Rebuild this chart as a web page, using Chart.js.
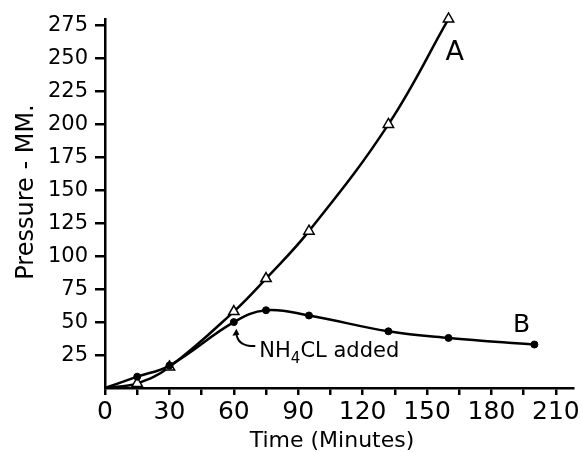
<!DOCTYPE html>
<html>
<head>
<meta charset="utf-8">
<script src="https://cdn.jsdelivr.net/npm/chart.js@4"></script>
<style>
  html, body { margin: 0; padding: 0; background: #fff; }
  #wrap { width: 582px; height: 452px; }
</style>
</head>
<body>
<div id="wrap"><canvas id="myChart"></canvas></div>
<script>
// values
const timesA = [0, 15, 30, 60, 75, 95, 132, 160];
const pressureA = [0, 3.5, 16, 58, 83, 119, 200, 280];
const timesB = [0, 15, 30, 60, 75, 95, 132, 160, 200];
const pressureB = [0, 8.6, 17, 50, 59, 55, 43, 38, 33];

const xTicksMax = 210;
const yTicksMin = 25;
const yTicksMax = 275;

const fontName = "'DejaVu Sans', sans-serif";

// text labels put on the plot, in data units
const curveLabels = [
    { text: 'A', x: 158.6, y: 249, size: 27 },
    { text: 'B', x: 190, y: 42.6, size: 25 },
];
const noteAt = { x: 71.9, y: 23.7 };       // "NH4CL added"
const arrowFrom = { x: 70, y: 31.8 };
const arrowBend = { x: 61.5, y: 31.5 };
const arrowTo = { x: 61.2, y: 45 };

function toPoints(xs, ys) {
    return xs.map((x, i) => ({ x: x, y: ys[i] }));
}

const extraText = {
    id: 'extraText',
    afterDatasetsDraw(chart) {
        const ctx = chart.ctx;
        const sx = chart.scales.x, sy = chart.scales.y;
        ctx.save();
        ctx.fillStyle = '#000';
        ctx.strokeStyle = '#000';

        // curve names
        curveLabels.forEach(l => {
            ctx.font = l.size + 'px ' + fontName;
            ctx.textAlign = 'left';
            ctx.textBaseline = 'alphabetic';
            ctx.fillText(l.text, sx.getPixelForValue(l.x), sy.getPixelForValue(l.y));
        });

        // NH4CL added
        let px = sx.getPixelForValue(noteAt.x);
        const py = sy.getPixelForValue(noteAt.y);
        ctx.font = '21px ' + fontName;
        ctx.fillText('NH', px, py);
        px += ctx.measureText('NH').width;
        ctx.font = '15px ' + fontName;
        ctx.fillText('4', px, py + 6);
        px += ctx.measureText('4').width;
        ctx.font = '21px ' + fontName;
        ctx.fillText('CL added', px, py);

        // arrow
        const ax = sx.getPixelForValue(arrowFrom.x), ay = sy.getPixelForValue(arrowFrom.y);
        const bx = sx.getPixelForValue(arrowBend.x), by = sy.getPixelForValue(arrowBend.y);
        const tx = sx.getPixelForValue(arrowTo.x), ty = sy.getPixelForValue(arrowTo.y);
        ctx.lineWidth = 2;
        ctx.beginPath();
        ctx.moveTo(ax, ay);
        ctx.quadraticCurveTo(bx, by, tx, ty + 4);
        ctx.stroke();
        ctx.beginPath();
        ctx.moveTo(tx, ty);
        ctx.lineTo(tx - 4, ty + 7);
        ctx.lineTo(tx + 3, ty + 6);
        ctx.closePath();
        ctx.fill();

        // axis titles
        ctx.font = '22px ' + fontName;
        ctx.textAlign = 'center';
        ctx.fillText('Time (Minutes)', 332, 447);

        ctx.save();
        ctx.translate(32.5, 192);
        ctx.rotate(-Math.PI / 2);
        ctx.font = '24px ' + fontName;
        ctx.fillText('Pressure - MM.', 0, 0);
        ctx.restore();

        ctx.restore();
    }
};

new Chart(document.getElementById('myChart'), {
    type: 'line',
    data: {
        datasets: [
            {
                label: 'B',
                data: toPoints(timesB, pressureB),
                borderColor: '#000',
                backgroundColor: '#000',
                borderWidth: 2.5,
                tension: 0.4,
                pointStyle: 'circle',
                pointRadius: timesB.map(t => t === 0 ? 0 : 3.5),
                pointBorderWidth: 1,
                clip: false,
            },
            {
                label: 'A',
                data: toPoints(timesA, pressureA),
                borderColor: '#000',
                backgroundColor: '#fff',
                borderWidth: 2.5,
                tension: 0.4,
                pointStyle: 'triangle',
                pointRadius: timesA.map(t => t === 0 ? 0 : 6),
                pointBorderWidth: 1.5,
                clip: false,
            },
        ]
    },
    options: {
        responsive: true,
        maintainAspectRatio: false,
        animation: false,
        layout: { padding: { top: 19, right: 7, left: 0, bottom: 0 } },
        plugins: {
            legend: { display: false },
            tooltip: { enabled: false },
        },
        scales: {
            x: {
                type: 'linear',
                min: 0,
                max: 218,
                afterBuildTicks: scale => {
                    const t = [];
                    for (let v = 0; v <= xTicksMax; v += 15) t.push({ value: v });
                    scale.ticks = t;
                },
                afterFit: scale => { scale.height = 64; },
                border: { display: true, color: '#000', width: 2.5 },
                grid: { drawOnChartArea: false, color: '#000', lineWidth: 2.5, tickLength: 7 },
                ticks: {
                    color: '#000',
                    font: { family: fontName, size: 25 },
                    padding: 2,
                    maxRotation: 0,
                    autoSkip: false,
                    callback: v => (v % 30 === 0 ? String(v) : ''),
                },
            },
            y: {
                type: 'linear',
                min: 0,
                max: 279.5,
                afterBuildTicks: scale => {
                    const t = [];
                    for (let v = yTicksMin; v <= yTicksMax; v += 25) t.push({ value: v });
                    scale.ticks = t;
                },
                afterFit: scale => { scale.width = 105; },
                border: { display: true, color: '#000', width: 2.5 },
                grid: { drawOnChartArea: false, color: '#000', lineWidth: 2.5, tickLength: 10 },
                ticks: {
                    color: '#000',
                    font: { family: fontName, size: 21 },
                    padding: 7,
                    autoSkip: false,
                },
            },
        },
    },
    plugins: [extraText],
});
</script>
</body>
</html>
